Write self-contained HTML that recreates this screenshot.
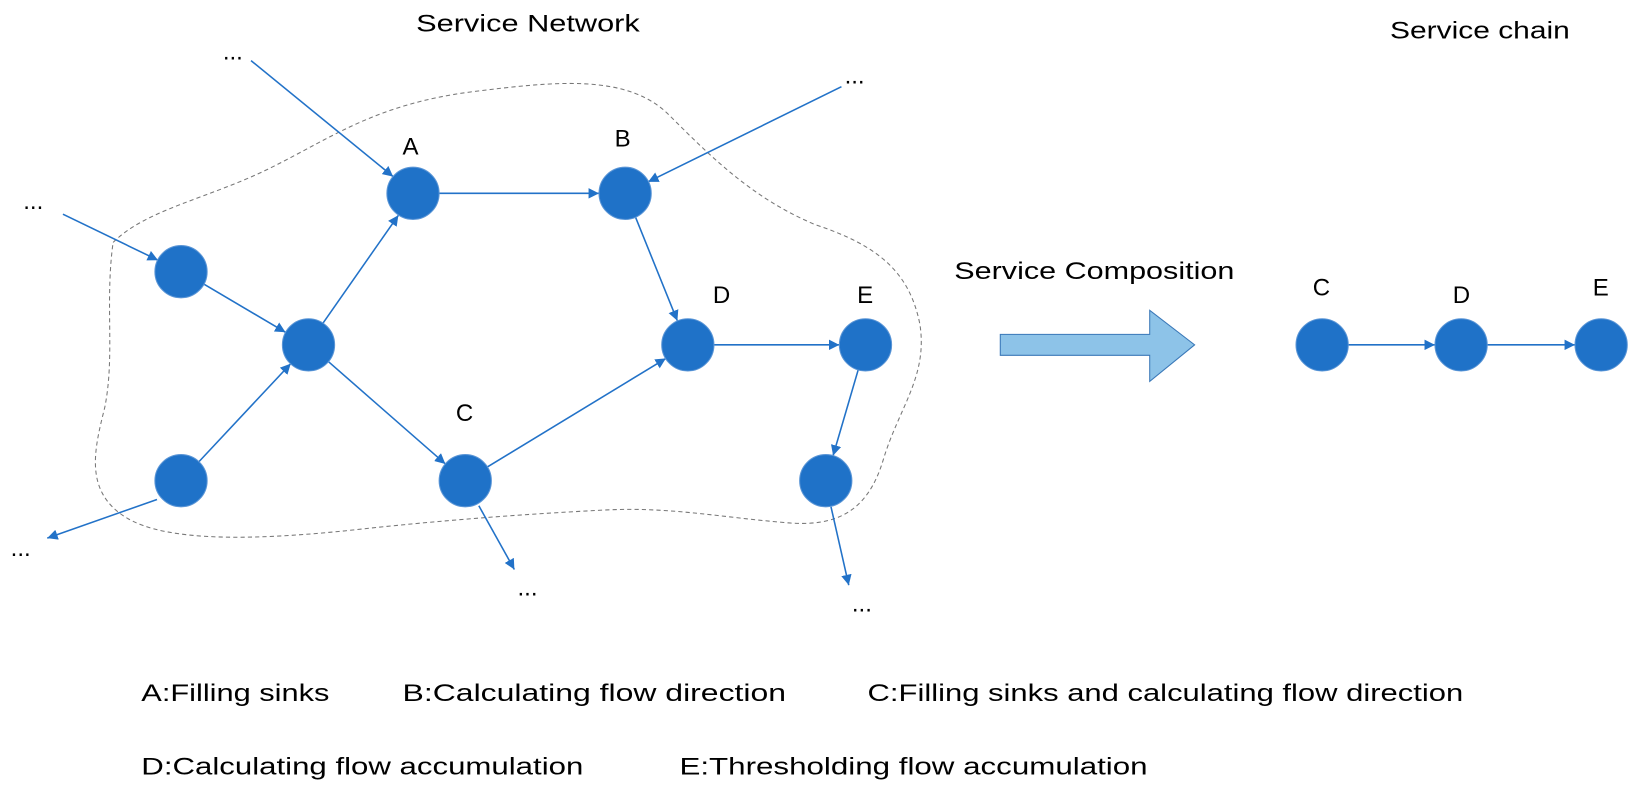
<!DOCTYPE html>
<html><head><meta charset="utf-8"><style>
html,body{margin:0;padding:0;background:#fff;}
svg{display:block;}
text{font-family:"Liberation Sans",sans-serif;fill:#000;}
</style></head><body>
<svg width="1639" height="790" viewBox="0 0 1568 756" xmlns="http://www.w3.org/2000/svg">
<defs>
<marker id="ar" viewBox="0 0 10 10" refX="10" refY="5" markerWidth="10" markerHeight="10" markerUnits="userSpaceOnUse" orient="auto">
<path d="M0,0 L10,5 L0,10 z" fill="#2272C8"/>
</marker>
</defs>
<path d="M108,232 C140,200 200,190 260,160 C320,130 360,100 450,88 C530,78 600,70 640,110 C680,150 720,190 780,215 C840,235 870,260 880,310 C888,360 860,390 845,440 C830,490 800,505 750,500 C690,495 640,485 580,488 C500,492 420,498 330,508 C250,516 160,520 120,495 C80,470 90,430 100,390 C110,340 100,290 108,232 Z" fill="none" stroke="#777" stroke-width="1" stroke-dasharray="4,3"/>
<g stroke="#2272C8" stroke-width="1.5" fill="none" marker-end="url(#ar)">
<line x1="240" y1="58" x2="376" y2="169"/>
<line x1="420" y1="185" x2="573" y2="185"/>
<line x1="805" y1="83" x2="620" y2="174"/>
<line x1="608" y1="208" x2="648" y2="307"/>
<line x1="60" y1="205" x2="151" y2="249"/>
<line x1="195" y1="272" x2="273" y2="318"/>
<line x1="190" y1="442" x2="278" y2="348"/>
<line x1="309" y1="309" x2="381" y2="206"/>
<line x1="314" y1="346" x2="426" y2="444"/>
<line x1="466" y1="447" x2="637" y2="343"/>
<line x1="683" y1="330" x2="803" y2="330"/>
<line x1="821" y1="354" x2="797" y2="436"/>
<line x1="150" y1="478" x2="45" y2="515"/>
<line x1="458" y1="484" x2="492" y2="545"/>
<line x1="795" y1="485" x2="812" y2="560"/>
<line x1="1290" y1="330" x2="1373" y2="330"/>
<line x1="1423" y1="330" x2="1507" y2="330"/>
</g>
<g fill="#1F72C8" stroke="#5A95D6" stroke-width="1">
<circle cx="395" cy="185" r="25"/>
<circle cx="598" cy="185" r="25"/>
<circle cx="173" cy="260" r="25"/>
<circle cx="295" cy="330" r="25"/>
<circle cx="173" cy="460" r="25"/>
<circle cx="445" cy="460" r="25"/>
<circle cx="658" cy="330" r="25"/>
<circle cx="828" cy="330" r="25"/>
<circle cx="790" cy="460" r="25"/>
<circle cx="1265" cy="330" r="25"/>
<circle cx="1398" cy="330" r="25"/>
<circle cx="1532" cy="330" r="25"/>
</g>
<path d="M957,320 L1100,320 L1100,297 L1143,330 L1100,365 L1100,340 L957,340 Z" fill="#8DC3E8" stroke="#3A78B8" stroke-width="1"/>
<g font-size="23">
<text x="398" y="30" textLength="214" lengthAdjust="spacingAndGlyphs">Service Network</text>
<text x="1330" y="37" textLength="172" lengthAdjust="spacingAndGlyphs">Service chain</text>
<text x="913" y="267" textLength="268" lengthAdjust="spacingAndGlyphs">Service Composition</text>
<text x="385" y="148">A</text>
<text x="588" y="140">B</text>
<text x="436" y="403">C</text>
<text x="682" y="290">D</text>
<text x="820" y="290">E</text>
<text x="1256" y="283">C</text>
<text x="1390" y="290">D</text>
<text x="1524" y="283">E</text>
<text x="213" y="57">...</text>
<text x="808" y="80">...</text>
<text x="22" y="200">...</text>
<text x="10" y="532">...</text>
<text x="495" y="570">...</text>
<text x="815" y="585">...</text>
<text x="135" y="671" textLength="180" lengthAdjust="spacingAndGlyphs">A:Filling sinks</text>
<text x="385" y="671" textLength="367" lengthAdjust="spacingAndGlyphs">B:Calculating flow direction</text>
<text x="830" y="671" textLength="570" lengthAdjust="spacingAndGlyphs">C:Filling sinks and calculating flow direction</text>
<text x="135" y="741" textLength="423" lengthAdjust="spacingAndGlyphs">D:Calculating flow accumulation</text>
<text x="650" y="741" textLength="448" lengthAdjust="spacingAndGlyphs">E:Thresholding flow accumulation</text>
</g>
</svg>
</body></html>
